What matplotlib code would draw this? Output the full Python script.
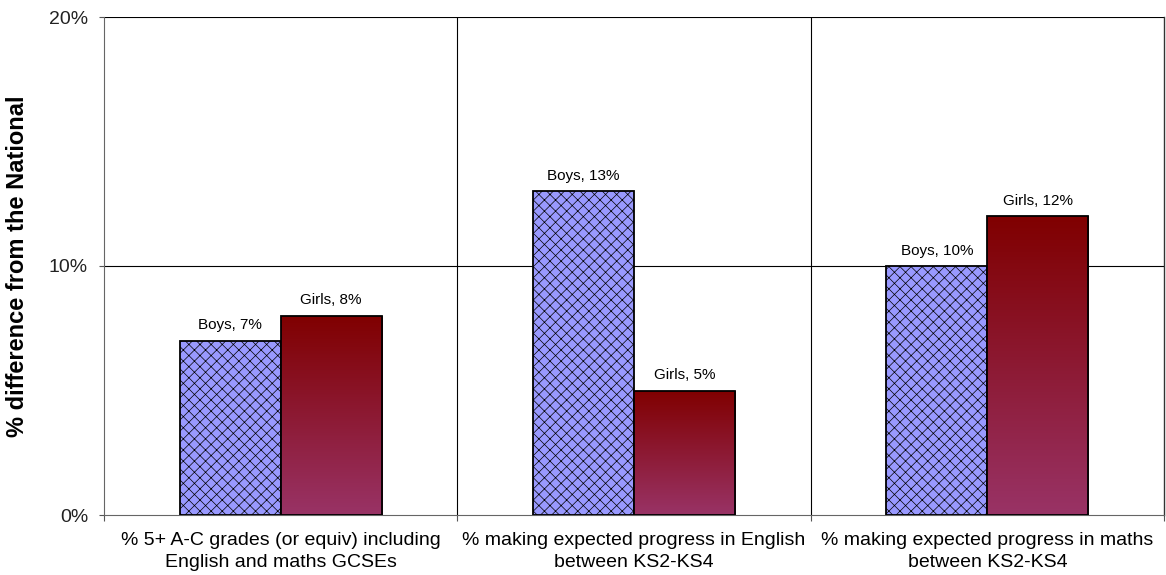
import matplotlib
matplotlib.use("Agg")
import matplotlib.pyplot as plt
import numpy as np
from matplotlib.colors import LinearSegmentedColormap
from matplotlib.patches import Rectangle

categories = ["% 5+ A-C grades (or equiv) including\nEnglish and maths GCSEs",
              "% making expected progress in English\nbetween KS2-KS4",
              "% making expected progress in maths\nbetween KS2-KS4"]
boys = [7, 13, 10]
girls = [8, 5, 12]
yticks = [0, 10, 20]
ytick_labels = ["0%", "10%", "20%"]

plt.rcParams['font.family'] = ['Liberation Sans', 'DejaVu Sans']
plt.rcParams['hatch.color'] = '#8a8aa6'
plt.rcParams['hatch.linewidth'] = 0.5

fig = plt.figure(figsize=(11.66, 5.75), dpi=100)
ax = fig.add_axes([104/1166, 60/575, 1060/1166, 498/575])

n = len(categories)
centers = np.arange(n) + 0.5
w = 0.286

cmap = LinearSegmentedColormap.from_list("g", ["#993366", "#800000"])
grad = np.linspace(0, 1, 256).reshape(-1, 1)

for i, c in enumerate(centers):
    # Boys
    ax.bar(c - w/2, boys[i], width=w, color="#9999FF", edgecolor="black",
           linewidth=1.3, hatch="xxx", zorder=3)
    # Girls with gradient
    rect = Rectangle((c, 0), w, girls[i], facecolor="none", edgecolor="black",
                     linewidth=1.3, zorder=4)
    ax.add_patch(rect)
    im = ax.imshow(grad, extent=[c, c + w, 0, girls[i]], origin="lower",
                   cmap=cmap, aspect="auto", zorder=3)
    im.set_clip_path(rect)
    ax.annotate(f"Boys, {boys[i]}%", (c - w/2, boys[i]), xytext=(0, 6),
                textcoords="offset points", ha="center", va="bottom", fontsize=11)
    ax.annotate(f"Girls, {girls[i]}%", (c + w/2, girls[i]), xytext=(0, 6),
                textcoords="offset points", ha="center", va="bottom", fontsize=11)

ax.set_xlim(0, n)
ax.set_ylim(0, 20)

# grid lines
for y in [10, 20]:
    ax.axhline(y, color="black", linewidth=0.8, zorder=1)
for x in range(1, n):
    ax.axvline(x, color="black", linewidth=0.8, zorder=1)

ax.set_yticks(yticks)
ax.set_yticklabels(ytick_labels, fontsize=14, color="#222222")
ax.set_xticks(np.arange(n + 1))
ax.set_xticklabels([])
ax.set_xticks(centers, minor=True)
ax.set_xticklabels(categories, minor=True, fontsize=14, linespacing=1.4)
ax.tick_params(axis="x", which="minor", length=0, pad=12)
ax.tick_params(axis="x", which="major", direction="out", length=4, color="#555555")
ax.tick_params(axis="y", direction="out", length=3.5, color="#555555", pad=8)

ax.set_ylabel("% difference from the National", fontsize=17, fontweight="bold", labelpad=14)

ax.spines["top"].set_visible(False)
ax.spines["left"].set_color("#666666")
ax.spines["bottom"].set_color("#666666")
ax.spines["right"].set_color("#333333")
ax.spines["right"].set_linewidth(1.0)

fig.savefig("out.png", dpi=100)
